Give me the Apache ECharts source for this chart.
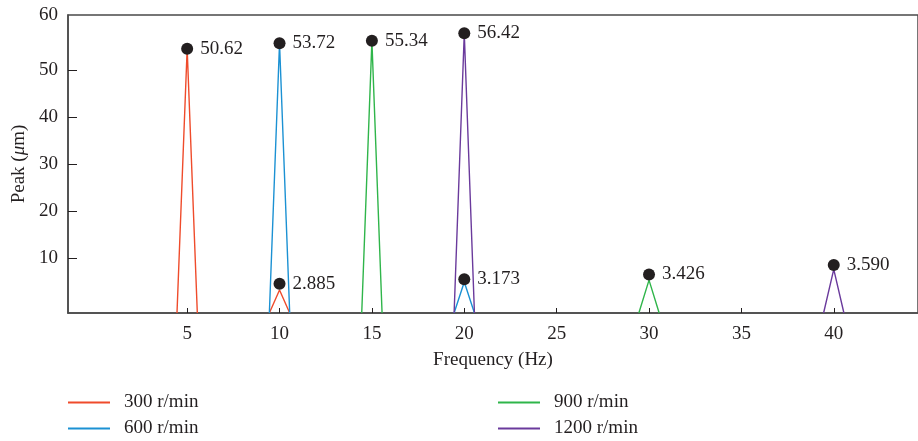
<!DOCTYPE html>
<html>
<head>
<meta charset="utf-8">
<script src="https://cdn.jsdelivr.net/npm/echarts@6/dist/echarts.min.js"></script>
<style>html,body{margin:0;padding:0;background:#fff}#c{width:918px;height:441px}</style>
</head>
<body>
<div id="c"></div>
<script>
// ---- data ----
const seriesNames = ['300 r/min', '600 r/min', '900 r/min', '1200 r/min'];
const seriesColors = ['#ef4b2b', '#1b91d3', '#2fb54a', '#6a3a9c'];
// peak frequencies (Hz) and apex heights of each series' triangles
const freq300 = [5, 10];   const apex300 = [54.6, 3.3];
const freq600 = [10, 20];  const apex600 = [55.8, 5.0];
const freq900 = [15, 30];  const apex900 = [56.3, 5.4];
const freq1200 = [20, 40]; const apex1200 = [57.9, 7.7];
const halfWidth = 0.55; // half base width of each peak (Hz)
// marked points
const markerFreq = [5, 10, 15, 20, 10, 20, 30, 40];
const markerValue = [54.6, 55.8, 56.3, 57.9, 4.6, 5.6, 6.6, 8.6];
const markerLabel = ['50.62', '53.72', '55.34', '56.42', '2.885', '3.173', '3.426', '3.590'];
// axes
const xTicks = [5, 10, 15, 20, 25, 30, 35, 40];
const yTicks = [10, 20, 30, 40, 50];
const X_MIN = -1.45, X_MAX = 44.56;
const Y_MIN = -1.6, Y_MAX = 61.8;

const FONT = 'Liberation Serif';
const TEXT = '#231f20';
const freqs = [freq300, freq600, freq900, freq1200];
const apexes = [apex300, apex600, apex900, apex1200];

const series = [];
freqs.forEach((fs, si) => {
  fs.forEach((f, k) => {
    series.push({
      type: 'line', name: seriesNames[si], symbol: 'none', silent: true,
      lineStyle: { color: seriesColors[si], width: 1.4 },
      itemStyle: { color: seriesColors[si] },
      data: [[f - halfWidth, Y_MIN], [f, apexes[si][k]], [f + halfWidth, Y_MIN]],
      z: 3
    });
  });
});
series.push({
  type: 'scatter', name: 'markers', symbol: 'circle', symbolSize: 12,
  itemStyle: { color: TEXT, opacity: 1 }, z: 5,
  label: { show: true, position: 'right', distance: 7, formatter: '{b}',
           fontFamily: FONT, fontSize: 19, color: TEXT },
  data: markerFreq.map((f, i) => ({ name: markerLabel[i], value: [f, markerValue[i]] }))
});

const legendPos = [[68, 393], [68, 419], [498, 393], [498, 419]];
const legends = seriesNames.map((n, i) => ({
  data: [n], left: legendPos[i][0], top: legendPos[i][1], padding: 0,
  icon: 'rect', itemWidth: 42, itemHeight: 2, selectedMode: false,
  textStyle: { fontFamily: FONT, fontSize: 19, color: TEXT, padding: [0, 0, 0, 9] }
}));

const chart = echarts.init(document.getElementById('c'), null, { renderer: 'canvas' });
chart.setOption({
  animation: false,
  backgroundColor: '#fff',
  textStyle: { fontFamily: FONT },
  grid: { left: 68, right: -3, top: 15, bottom: 128, show: true,
          borderColor: '#4a4a4a', borderWidth: 1.5, backgroundColor: 'transparent' },
  legend: legends,
  xAxis: {
    type: 'value', min: X_MIN, max: X_MAX,
    name: 'Frequency (Hz)', nameLocation: 'middle', nameGap: 38,
    nameTextStyle: { fontFamily: FONT, fontSize: 19, color: TEXT },
    axisLine: { show: true, onZero: false, lineStyle: { color: '#4a4a4a', width: 1.5 } },
    axisTick: { show: true, inside: true, length: 5, customValues: xTicks,
                lineStyle: { color: TEXT, width: 1 } },
    axisLabel: { customValues: xTicks, margin: 12, fontFamily: FONT, fontSize: 19, color: TEXT },
    splitLine: { show: false }
  },
  yAxis: {
    type: 'value', min: Y_MIN, max: Y_MAX,
    name: 'Peak ({i|μ}m)', nameLocation: 'middle', nameGap: 36, nameRotate: 90,
    nameTextStyle: { fontFamily: FONT, fontSize: 19, color: TEXT,
                     rich: { i: { fontFamily: FONT, fontSize: 19, fontStyle: 'italic', color: TEXT } } },
    axisLine: { show: true, onZero: false, lineStyle: { color: '#4a4a4a', width: 1.5 } },
    axisTick: { show: true, inside: true, length: 9, customValues: yTicks,
                lineStyle: { color: TEXT, width: 1 } },
    axisLabel: { customValues: yTicks.concat([Y_MAX]), margin: 10,
                 formatter: v => (v > 60 ? '60' : String(v)),
                 fontFamily: FONT, fontSize: 19, color: TEXT },
    splitLine: { show: false }
  },
  series: series
});
</script>
</body>
</html>
